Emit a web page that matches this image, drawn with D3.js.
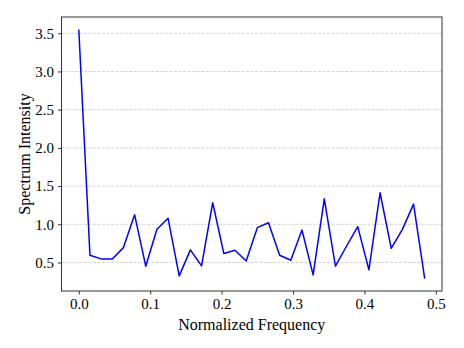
<!DOCTYPE html>
<meta charset="utf-8">
<style>
    body { margin: 0; background: #fff; }
    .tick text { font-family: "Liberation Serif", "Times New Roman", serif; font-size: 15px; fill: #000; }
    .lbl { font-family: "Liberation Serif", "Times New Roman", serif; font-size: 16px; fill: #000; }
</style>
<body>
<div id="chart"></div>
<script src="https://d3js.org/d3.v7.min.js"></script>
<script>

    // spectrum values at normalized frequency k/64
    var intensity = [3.55, 0.595, 0.547, 0.547, 0.695, 1.126, 0.452, 0.934,
                     1.078, 0.325, 0.665, 0.456, 1.282, 0.617, 0.66, 0.52,
                     0.956, 1.02, 0.595, 0.53, 0.925, 0.338, 1.334, 0.452,
                     0.716, 0.969, 0.404, 1.413, 0.686, 0.934, 1.264, 0.29];
    var freq = intensity.map(function (d, i) { return i / 64; });
    var xTicks = [0, 0.1, 0.2, 0.3, 0.4, 0.5];
    var yTicks = [0.5, 1.0, 1.5, 2.0, 2.5, 3.0, 3.5];

    var W = 464, H = 348;
    var margin = { top: 17, right: 22, bottom: 57, left: 61.5 };

    var svg = d3.select("#chart").append("svg")
        .attr("width", W).attr("height", H);

    // matplotlib-ish 5% padding
    var xr = d3.extent(freq), yr = d3.extent(intensity);
    var xp = (xr[1] - xr[0]) * 0.05, yp = (yr[1] - yr[0]) * 0.05;

    var x = d3.scaleLinear().domain([xr[0] - xp, xr[1] + xp]).range([margin.left, W - margin.right]);
    var y = d3.scaleLinear().domain([yr[0] - yp, yr[1] + yp]).range([H - margin.bottom, margin.top]);

    // grid
    svg.append("g").selectAll("line")
        .data(yTicks).enter().append("line")
        .attr("x1", margin.left).attr("x2", W - margin.right)
        .attr("y1", function (d) { return y(d); })
        .attr("y2", function (d) { return y(d); })
        .attr("stroke", "#b0b0b0").attr("stroke-opacity", 0.7)
        .attr("stroke-width", 0.8).attr("stroke-dasharray", "3,1.5");

    var line = d3.line()
        .x(function (d, i) { return x(freq[i]); })
        .y(function (d) { return y(d); });

    svg.append("path").datum(intensity)
        .attr("d", line)
        .attr("fill", "none")
        .attr("stroke", "#0000ff")
        .attr("stroke-width", 1.5)
        .attr("stroke-linejoin", "round");

    // frame
    svg.append("rect")
        .attr("x", margin.left).attr("y", margin.top)
        .attr("width", W - margin.right - margin.left)
        .attr("height", H - margin.bottom - margin.top)
        .attr("fill", "none").attr("stroke", "#333").attr("stroke-width", 1);

    var xAxis = svg.append("g")
        .attr("transform", "translate(0," + (H - margin.bottom) + ")")
        .call(d3.axisBottom(x).tickValues(xTicks).tickFormat(d3.format(".1f")).tickSize(3.5).tickPadding(4));
    var yAxis = svg.append("g")
        .attr("transform", "translate(" + margin.left + ",0)")
        .call(d3.axisLeft(y).tickValues(yTicks).tickFormat(d3.format(".1f")).tickSize(3.5).tickPadding(4));
    [xAxis, yAxis].forEach(function (a) {
        a.select(".domain").remove();
        a.selectAll(".tick line").attr("stroke", "#333");
    });

    svg.append("text").attr("class", "lbl")
        .attr("x", (margin.left + W - margin.right) / 2).attr("y", 330)
        .attr("text-anchor", "middle")
        .text("Normalized Frequency");

    svg.append("text").attr("class", "lbl")
        .attr("transform", "translate(30," + ((margin.top + H - margin.bottom) / 2) + ") rotate(-90)")
        .attr("text-anchor", "middle")
        .text("Spectrum Intensity");

</script>
</body>
